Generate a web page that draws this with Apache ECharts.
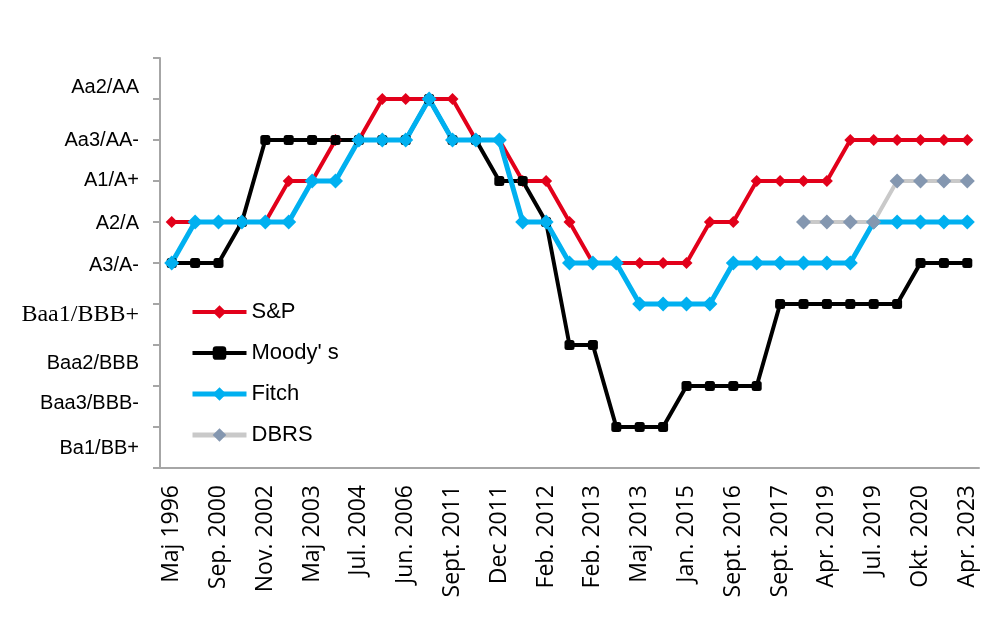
<!DOCTYPE html>
<html>
<head>
<meta charset="utf-8">
<script src="https://cdn.jsdelivr.net/npm/echarts@6/dist/echarts.min.js"></script>
<style>
  html, body { margin: 0; padding: 0; background: #fff; }
</style>
</head>
<body>
<div id="ratingChart" style="width: 985px; height: 630px;"></div>
<script>
    // categories: only every other date is labelled on the axis
    const dates = [
        'Maj 1996', '', 'Sep. 2000', '', 'Nov. 2002', '', 'Maj 2003', '', 'Jul. 2004', '',
        'Jun. 2006', '', 'Sept. 2011', '', 'Dec 2011', '', 'Feb. 2012', '', 'Feb. 2013', '',
        'Maj 2013', '', 'Jan. 2015', '', 'Sept. 2016', '', 'Sept. 2017', '', 'Apr. 2019', '',
        'Jul. 2019', '', 'Okt. 2020', '', 'Apr. 2023'
    ];

    // rating scale, index = value on the axis
    const ratings = ['', 'Ba1/BB+', 'Baa3/BBB-', 'Baa2/BBB', 'Baa1/BBB+', 'A3/A-', 'A2/A', 'A1/A+', 'Aa3/AA-', 'Aa2/AA', ''];

    const sp = [6, 6, 6, 6, 6, 7, 7, 8, 8, 9, 9, 9, 9, 8, 8, 7, 7, 6, 5, 5, 5, 5, 5, 6, 6, 7, 7, 7, 7, 8, 8, 8, 8, 8, 8];
    const moodys = [5, 5, 5, 6, 8, 8, 8, 8, 8, 8, 8, 9, 8, 8, 7, 7, 6, 3, 3, 1, 1, 1, 2, 2, 2, 2, 4, 4, 4, 4, 4, 4, 5, 5, 5];
    const fitch = [5, 6, 6, 6, 6, 6, 7, 7, 8, 8, 8, 9, 8, 8, 8, 6, 6, 5, 5, 5, 4, 4, 4, 4, 5, 5, 5, 5, 5, 5, 6, 6, 6, 6, 6];
    const dbrs = [null, null, null, null, null, null, null, null, null, null, null, null, null, null, null, null, null, null, null, null,
        null, null, null, null, null, null, null, 6, 6, 6, 6, 7, 7, 7, 7];

    const sansFont = '"Liberation Sans", Arial, sans-serif';
    const serifFont = '"Liberation Serif", "Times New Roman", serif';

    // the y labels in the original are not exactly on their ticks
    const labelShift = {1: 21, 2: 17, 3: 18, 4: 11, 5: 2, 6: 1, 7: -1, 8: 0, 9: -12};
    const rich = {};
    Object.keys(labelShift).forEach(function (k) {
        const d = labelShift[k];
        rich['r' + k] = {
            fontFamily: k === '4' ? serifFont : sansFont,
            fontSize: k === '4' ? 24 : 20,
            color: '#000',
            padding: d >= 0 ? [2 * d, 0, 0, 0] : [0, 0, -2 * d, 0]
        };
    });

    let myChart = echarts.init(document.getElementById('ratingChart'));
    myChart.setOption({
        animation: false,
        backgroundColor: '#fff',
        grid: {
            left: 160,
            right: 6,
            top: 58,
            bottom: 162
        },
        legend: {
            orient: 'vertical',
            left: 185,
            top: 296,
            itemWidth: 54,
            itemHeight: 17,
            itemGap: 19,
            textStyle: {
                fontFamily: sansFont,
                fontSize: 22,
                color: '#000'
            },
            data: [
                { name: 'S&P', lineStyle: { width: 4 } },
                { name: "Moody' s", lineStyle: { width: 4 } },
                { name: 'Fitch', lineStyle: { width: 5 } },
                { name: 'DBRS', lineStyle: { width: 5 } }
            ]
        },
        xAxis: {
            type: 'category',
            data: dates,
            boundaryGap: true,
            axisLine: { lineStyle: { color: '#a6a6a6', width: 2 } },
            axisTick: { interval: 0, length: 7, lineStyle: { color: '#a6a6a6', width: 2 } },
            axisLabel: {
                interval: 0,
                rotate: 90,
                margin: 17,
                fontFamily: '"Open Sans", sans-serif',
                fontSize: 23,
                color: '#000'
            }
        },
        yAxis: {
            type: 'value',
            min: 0,
            max: 10,
            interval: 1,
            splitLine: { show: false },
            axisLine: { show: true, lineStyle: { color: '#a6a6a6', width: 2 } },
            axisTick: { show: true, length: 7, lineStyle: { color: '#a6a6a6', width: 2 } },
            axisLabel: {
                margin: 21,
                fontFamily: sansFont,
                fontSize: 20,
                color: '#000',
                formatter: function (v) {
                    return ratings[v] ? '{r' + v + '|' + ratings[v] + '}' : '';
                },
                rich: rich
            }
        },
        series: [
            {
                name: 'S&P',
                type: 'line',
                data: sp,
                symbol: 'diamond',
                symbolSize: 12,
                showAllSymbol: true,
                lineStyle: { color: '#e2001a', width: 4 },
                itemStyle: { color: '#e2001a' }
            },
            {
                name: "Moody' s",
                type: 'line',
                data: moodys,
                symbol: 'roundRect',
                symbolSize: 10,
                showAllSymbol: true,
                lineStyle: { color: '#000', width: 4 },
                itemStyle: { color: '#000' }
            },
            {
                name: 'Fitch',
                type: 'line',
                data: fitch,
                symbol: 'diamond',
                symbolSize: 15,
                showAllSymbol: true,
                lineStyle: { color: '#00b0f0', width: 5 },
                itemStyle: { color: '#00b0f0' }
            },
            {
                name: 'DBRS',
                type: 'line',
                data: dbrs,
                symbol: 'diamond',
                symbolSize: 15,
                showAllSymbol: true,
                lineStyle: { color: '#c9c9c9', width: 4 },
                itemStyle: { color: '#8497b0' }
            }
        ]
    });
</script>
</body>
</html>
